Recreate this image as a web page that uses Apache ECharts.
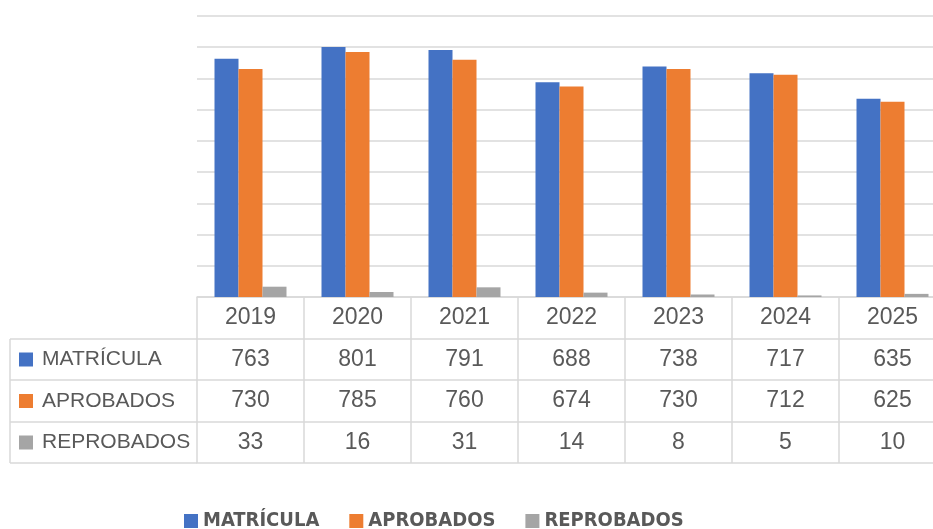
<!DOCTYPE html>
<html>
<head>
<meta charset="utf-8">
<script src="https://cdn.jsdelivr.net/npm/echarts@6/dist/echarts.min.js"></script>
<style>
  html, body { margin: 0; padding: 0; background: #fff; }
  #chart { width: 933px; height: 529px; }
</style>
</head>
<body>
<div id="chart"></div>
<script>
const years = ['2019', '2020', '2021', '2022', '2023', '2024', '2025']
const matricula = [763, 801, 791, 688, 738, 717, 635]
const aprobados = [730, 785, 760, 674, 730, 712, 625]
const reprobados = [33, 16, 31, 14, 8, 5, 10]
const seriesNames = ['MATRÍCULA', 'APROBADOS', 'REPROBADOS']
const seriesColors = ['#4472c4', '#ed7d31', '#a5a5a5']
const yMax = 900
const yStep = 100

// data table layout (below the plot)
const gridLeft = 197
const gridBottomY = 297
const rowLines = [42, 83, 125, 166]   // offsets of the table's horizontal lines below the axis
const tableLeft = 10
const borderColor = '#d9d9d9'
const textColor = '#595959'
const tableFont = 'Liberation Sans, Arial, sans-serif'

const chart = echarts.init(document.getElementById('chart'))

const rowData = [matricula, aprobados, reprobados]

// one category axis per table row: its line is the row's top border,
// its ticks are the cell separators, its labels are the values
const xAxes = [years].concat(rowData).map((data, i) => ({
  type: 'category',
  gridIndex: 0,
  position: 'bottom',
  offset: i === 0 ? 0 : rowLines[i - 1],
  data: data.map(String),
  boundaryGap: true,
  axisLine: { show: true, lineStyle: { color: borderColor, width: 1.5 } },
  axisTick: {
    show: true,
    interval: 0,
    alignWithLabel: false,
    length: rowLines[i] - (i === 0 ? 0 : rowLines[i - 1]),
    lineStyle: { color: borderColor, width: 1.5 }
  },
  axisLabel: {
    interval: 0,
    margin: 21,
    verticalAlign: 'middle',
    color: textColor,
    fontSize: 23,
    fontFamily: tableFont
  }
}))

// bottom border of the table
xAxes.push({
  type: 'category',
  gridIndex: 0,
  position: 'bottom',
  offset: rowLines[3],
  data: years,
  axisLine: { show: true, lineStyle: { color: borderColor, width: 1.5 } },
  axisTick: { show: false },
  axisLabel: { show: false }
})

// row headers of the data table
const headerGraphics = []
seriesNames.forEach((name, i) => {
  const top = gridBottomY + rowLines[i]
  const bottom = gridBottomY + rowLines[i + 1]
  const mid = (top + bottom) / 2
  headerGraphics.push({
    type: 'rect',
    shape: { x: 19, y: mid - 7, width: 14, height: 14 },
    style: { fill: seriesColors[i] }
  })
  headerGraphics.push({
    type: 'text',
    x: 42,
    y: mid,
    style: {
      text: name,
      fill: textColor,
      fontSize: 21,
      fontFamily: tableFont,
      verticalAlign: 'middle'
    }
  })
})
rowLines.forEach(off => {
  headerGraphics.push({
    type: 'line',
    shape: { x1: tableLeft, y1: gridBottomY + off, x2: gridLeft, y2: gridBottomY + off },
    style: { stroke: borderColor, lineWidth: 1.5 }
  })
})
headerGraphics.push({
  type: 'line',
  shape: { x1: tableLeft, y1: gridBottomY + rowLines[0], x2: tableLeft, y2: gridBottomY + rowLines[3] },
  style: { stroke: borderColor, lineWidth: 1.5 }
})

const option = {
  backgroundColor: '#ffffff',
  animation: false,
  grid: {
    left: gridLeft,
    top: 16,
    width: 749,
    height: gridBottomY - 16,
    outerBoundsMode: 'none'
  },
  legend: {
    left: 179,
    top: 506,
    icon: 'rect',
    itemWidth: 14,
    itemHeight: 14,
    itemGap: 30,
    data: seriesNames,
    textStyle: {
      color: textColor,
      fontSize: 20,
      fontWeight: 'bold',
      fontFamily: 'Liberation Sans Narrow, DejaVu Sans Condensed, Arial, sans-serif'
    }
  },
  xAxis: xAxes,
  yAxis: {
    type: 'value',
    min: 0,
    max: yMax,
    interval: yStep,
    axisLine: { show: false },
    axisTick: { show: false },
    axisLabel: { show: false },
    splitLine: { lineStyle: { color: borderColor, width: 1.5 } }
  },
  graphic: headerGraphics,
  series: rowData.map((data, i) => ({
    name: seriesNames[i],
    type: 'bar',
    xAxisIndex: 0,
    data: data,
    barWidth: 24,
    barGap: '0%',
    itemStyle: { color: seriesColors[i] }
  }))
}

chart.setOption(option)
</script>
</body>
</html>
